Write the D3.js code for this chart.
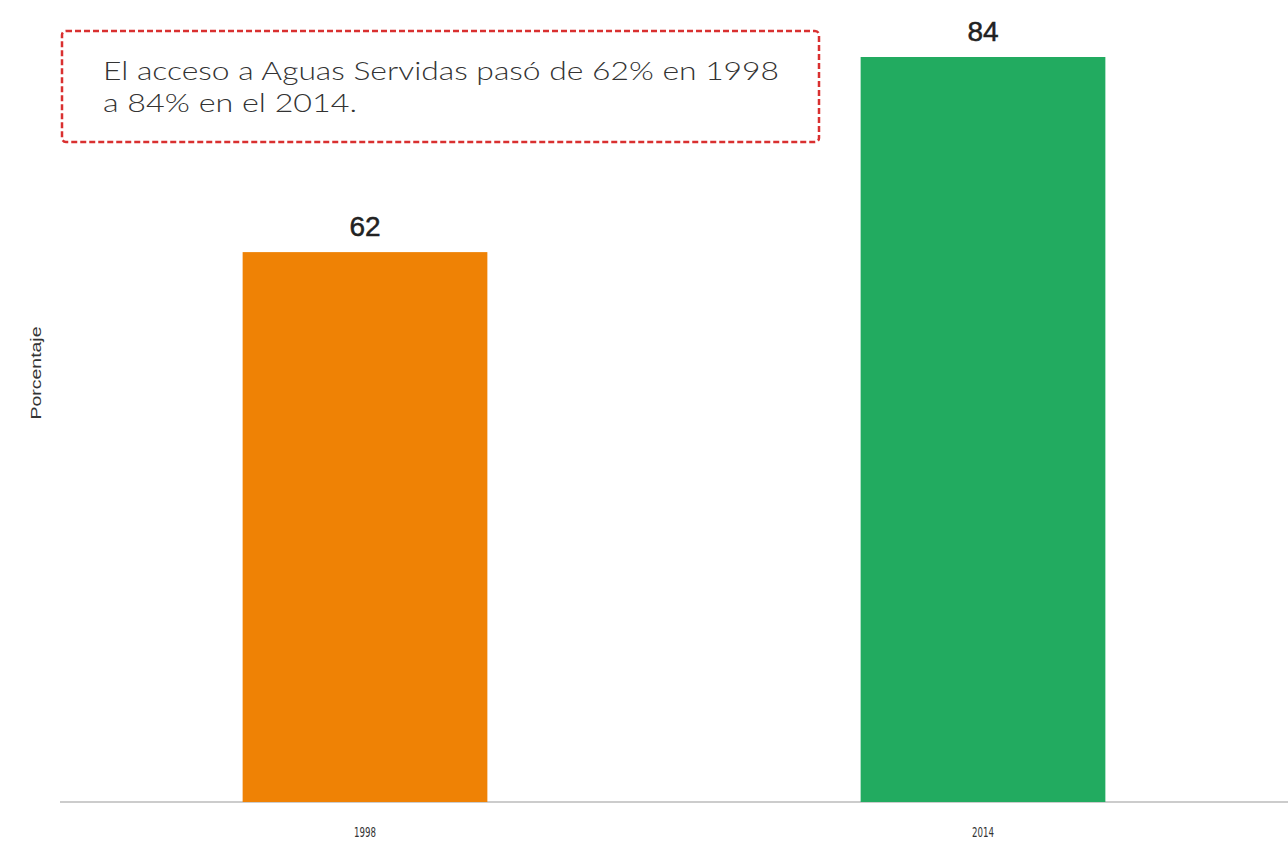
<!DOCTYPE html>
<html><head><meta charset="utf-8">
<script src="https://cdn.jsdelivr.net/npm/d3@7"></script>
<style>body{margin:0;background:#fff}svg{display:block}</style>
</head><body>
<svg id="c" width="1288" height="845"></svg>
<script>
const categories = ["1998", "2014"];
const values = [62, 84];
const colors = ["#EF8205", "#22AB60"];
const yLabel = "Porcentaje";
const noteLines = ["El acceso a Aguas Servidas pasó de 62% en 1998", "a 84% en el 2014."];

const svg = d3.select("#c");
const x = d3.scaleBand().domain(categories).range([56, 1292]).paddingInner(0.604).paddingOuter(0.302);
const y = d3.scaleLinear().domain([0, 84]).range([802, 57]);

// axis
const ax = svg.append("g").attr("transform", "translate(0,802)")
  .call(d3.axisBottom(x).tickSize(0).tickPadding(25));
ax.select(".domain").attr("stroke", "#bbb").attr("stroke-width", 1.5).attr("d", "M60,0H1288");
ax.selectAll(".tick text").attr("font-family", "Liberation Sans Narrow, DejaVu Sans Condensed, sans-serif")
  .attr("font-size", 14).attr("fill", "#333")
  .attr("textLength", 22).attr("lengthAdjust", "spacingAndGlyphs");

svg.append("g").selectAll("rect").data(values).join("rect")
  .attr("x", (d,i) => x(categories[i]))
  .attr("width", x.bandwidth())
  .attr("y", d => y(d))
  .attr("height", d => y(0) - y(d))
  .attr("fill", (d,i) => colors[i]);

svg.append("g").selectAll("text").data(values).join("text")
  .attr("x", (d,i) => x(categories[i]) + x.bandwidth()/2)
  .attr("y", d => y(d) - 16)
  .attr("text-anchor", "middle")
  .attr("font-family", "Liberation Sans, Arial, sans-serif")
  .attr("font-size", 28).attr("fill", "#222")
  .attr("stroke", "#222").attr("stroke-width", 0.5)
  .text(d => d);

svg.append("text")
  .attr("transform", "translate(41,373) rotate(-90)")
  .attr("text-anchor", "middle")
  .attr("font-family", "Liberation Sans Narrow, Liberation Sans, sans-serif")
  .attr("font-size", 15).attr("fill", "#333")
  .attr("textLength", 93).attr("lengthAdjust", "spacingAndGlyphs")
  .text(yLabel);

// note box
svg.append("rect").attr("x", 62).attr("y", 31).attr("width", 757).attr("height", 111)
  .attr("rx", 4).attr("fill", "#fff").attr("stroke", "#d93030").attr("stroke-width", 2.5)
  .attr("stroke-dasharray", "6,3");
const noteLen = [676, 254];
svg.append("g").selectAll("text").data(noteLines).join("text")
  .attr("x", 103).attr("y", (d,i) => 80 + i*32)
  .attr("font-family", "Lato, sans-serif").attr("font-weight", 300)
  .attr("font-size", 25).attr("fill", "#333")
  .attr("textLength", (d,i) => noteLen[i]).attr("lengthAdjust", "spacingAndGlyphs")
  .text(d => d);
</script>
</body></html>
